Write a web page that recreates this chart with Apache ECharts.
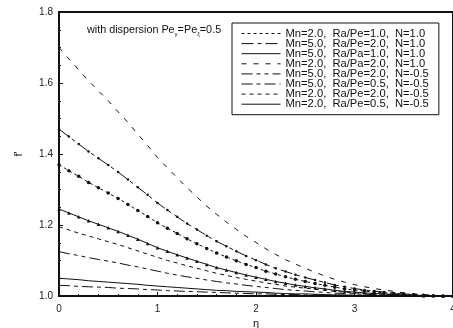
<!DOCTYPE html>
<html>
<head>
<meta charset="utf-8">
<script src="https://cdn.jsdelivr.net/npm/echarts@6/dist/echarts.min.js"></script>
<style>
  html, body { margin: 0; padding: 0; background: #fff; }
  #chart { width: 453px; height: 328px; }
</style>
</head>
<body>
<div id="chart"></div>
<script>
// f' profiles vs eta at eta = 0, 0.1, ... 4.0
const eta = [0.0, 0.1, 0.2, 0.3, 0.4, 0.5, 0.6, 0.7, 0.8, 0.9, 1.0, 1.1, 1.2, 1.3, 1.4, 1.5, 1.6, 1.7, 1.8, 1.9,
             2.0, 2.1, 2.2, 2.3, 2.4, 2.5, 2.6, 2.7, 2.8, 2.9, 3.0, 3.1, 3.2, 3.3, 3.4, 3.5, 3.6, 3.7, 3.8, 3.9, 4.0];

const legendNames = [
  "Mn=2.0,  Ra/Pe=1.0,  N=1.0",
  "Mn=5.0,  Ra/Pe=2.0,  N=1.0",
  "Mn=5.0,  Ra/Pa=1.0,  N=1.0",
  "Mn=2.0,  Ra/Pa=2.0,  N=1.0",
  "Mn=5.0,  Ra/Pe=2.0,  N=-0.5",
  "Mn=5.0,  Ra/Pe=0.5,  N=-0.5",
  "Mn=2.0,  Ra/Pe=2.0,  N=-0.5",
  "Mn=2.0,  Ra/Pe=0.5,  N=-0.5",
];

const mn2ra1n1 = [1.370, 1.353, 1.337, 1.320, 1.305, 1.290, 1.275, 1.258, 1.241, 1.224, 1.206, 1.191, 1.176, 1.161,
  1.147, 1.134, 1.121, 1.110, 1.099, 1.089, 1.080, 1.070, 1.062, 1.054, 1.047, 1.041, 1.035, 1.030, 1.025, 1.020,
  1.017, 1.014, 1.011, 1.009, 1.007, 1.005, 1.003, 1.002, 1.001, 1.000, 1.000];
const mn5ra2n1 = [1.470, 1.449, 1.428, 1.407, 1.388, 1.369, 1.349, 1.328, 1.306, 1.285, 1.262, 1.242, 1.223, 1.204,
  1.187, 1.170, 1.154, 1.140, 1.126, 1.113, 1.101, 1.089, 1.078, 1.069, 1.060, 1.052, 1.045, 1.038, 1.031, 1.026,
  1.021, 1.017, 1.014, 1.011, 1.008, 1.006, 1.004, 1.003, 1.001, 1.000, 1.000];
const mn5ra1n1 = [1.245, 1.234, 1.223, 1.212, 1.202, 1.192, 1.182, 1.171, 1.160, 1.148, 1.136, 1.126, 1.116, 1.107,
  1.098, 1.089, 1.080, 1.073, 1.066, 1.059, 1.053, 1.047, 1.041, 1.036, 1.031, 1.027, 1.023, 1.020, 1.016, 1.013,
  1.011, 1.009, 1.007, 1.006, 1.004, 1.003, 1.002, 1.001, 1.001, 1.000, 1.000];
const mn2ra2n1 = [1.700, 1.668, 1.637, 1.606, 1.578, 1.550, 1.519, 1.489, 1.456, 1.424, 1.390, 1.361, 1.333, 1.305,
  1.279, 1.253, 1.230, 1.208, 1.188, 1.168, 1.151, 1.133, 1.117, 1.102, 1.090, 1.078, 1.067, 1.056, 1.047, 1.039,
  1.032, 1.026, 1.021, 1.017, 1.013, 1.009, 1.006, 1.004, 1.002, 1.001, 1.000];
const mn5ra2nm = [1.125, 1.119, 1.114, 1.108, 1.103, 1.098, 1.093, 1.087, 1.082, 1.076, 1.070, 1.064, 1.059, 1.054,
  1.050, 1.045, 1.041, 1.037, 1.034, 1.030, 1.027, 1.024, 1.021, 1.018, 1.016, 1.014, 1.012, 1.010, 1.008, 1.007,
  1.006, 1.005, 1.004, 1.003, 1.002, 1.002, 1.001, 1.001, 1.000, 1.000, 1.000];
const mn5ra05nm = [1.030, 1.029, 1.027, 1.026, 1.025, 1.024, 1.022, 1.021, 1.020, 1.018, 1.017, 1.015, 1.014, 1.013,
  1.012, 1.011, 1.010, 1.009, 1.008, 1.007, 1.006, 1.006, 1.005, 1.004, 1.004, 1.003, 1.003, 1.002, 1.002, 1.002,
  1.001, 1.001, 1.001, 1.001, 1.001, 1.000, 1.000, 1.000, 1.000, 1.000, 1.000];
const mn2ra2nm = [1.195, 1.186, 1.177, 1.169, 1.161, 1.153, 1.145, 1.136, 1.127, 1.118, 1.109, 1.100, 1.093, 1.085,
  1.078, 1.071, 1.064, 1.058, 1.052, 1.047, 1.042, 1.037, 1.033, 1.028, 1.025, 1.022, 1.019, 1.016, 1.013, 1.011,
  1.009, 1.007, 1.006, 1.005, 1.004, 1.003, 1.002, 1.001, 1.001, 1.000, 1.000];
const mn2ra05nm = [1.050, 1.048, 1.046, 1.043, 1.041, 1.039, 1.037, 1.035, 1.033, 1.030, 1.028, 1.026, 1.024, 1.022,
  1.020, 1.018, 1.016, 1.015, 1.013, 1.012, 1.011, 1.010, 1.008, 1.007, 1.006, 1.006, 1.005, 1.004, 1.003, 1.003,
  1.002, 1.002, 1.002, 1.001, 1.001, 1.001, 1.000, 1.000, 1.000, 1.000, 1.000];

const xTicks = ["0", "1", "2", "3", "4"];

const FONT = "Liberation Sans, Arial, sans-serif";
const INK = "#111";

function pairs(ys) { return eta.map((x, i) => [x, ys[i]]); }

function curve(name, ys, dash, symbol, symbolSize) {
  return {
    name: name,
    type: "line",
    data: pairs(ys),
    smooth: false,
    symbol: symbol || "none",
    symbolSize: symbolSize || 0,
    showSymbol: !!symbol,
    showAllSymbol: true,
    itemStyle: { color: INK },
    lineStyle: { color: INK, width: 1, type: dash },
    emphasis: { disabled: true },
  };
}

const series = [
  curve(legendNames[0], mn2ra1n1, [3, 3], "circle", 3.5),
  curve(legendNames[1], mn5ra2n1, [12, 4, 4, 4], "circle", 2.5),
  curve(legendNames[2], mn5ra1n1, "solid", "triangle", 3.5),
  curve(legendNames[3], mn2ra2n1, [5, 7]),
  curve(legendNames[4], mn5ra2nm, [11, 4, 4, 4, 4, 4]),
  curve(legendNames[5], mn5ra05nm, [11, 4, 4, 4]),
  curve(legendNames[6], mn2ra2nm, [4, 4]),
  curve(legendNames[7], mn2ra05nm, "solid"),
];

const chart = echarts.init(document.getElementById("chart"), null, { renderer: "canvas" });
chart.setOption({
  animation: false,
  backgroundColor: "#fff",
  textStyle: { fontFamily: FONT },
  title: {
    text: "with dispersion Pe{sub|γ}=Pe{sub|ξ}=0.5",
    left: 82, top: 19,
    textStyle: {
      fontFamily: FONT, fontSize: 10.8, fontWeight: "normal", color: INK,
      rich: {
        sub: { fontFamily: FONT, fontSize: 6, color: INK, verticalAlign: "bottom", padding: [7, 0, 0, 0] },
      },
    },
  },
  legend: {
    orient: "vertical",
    left: 232, top: 23,
    padding: [5, 10, 5, 9],
    borderColor: INK, borderWidth: 1,
    itemWidth: 39, itemHeight: 9, itemGap: -0.9,
    selectedMode: false,
    itemStyle: { opacity: 0 },
    lineStyle: { width: 1 },
    textStyle: { fontFamily: FONT, fontSize: 11.2, color: INK, lineHeight: 9.4 },
    data: legendNames,
  },
  grid: {
    left: 59, right: 0, top: 12, bottom: 32,
    outerBoundsMode: "none",
    containLabel: false,
    show: true, borderColor: INK, borderWidth: 2, backgroundColor: "transparent",
  },
  xAxis: {
    type: "value", min: 0, max: 4, interval: 1,
    name: "η", nameLocation: "middle", nameGap: 17,
    nameTextStyle: { fontFamily: FONT, fontSize: 11, color: INK },
    axisLine: { lineStyle: { color: INK, width: 2 } },
    axisTick: { inside: true, length: 4, lineStyle: { color: INK } },
    minorTick: { show: true, splitNumber: 5, length: 2, lineStyle: { color: INK } },
    axisLabel: { fontFamily: FONT, fontSize: 10, color: "#222", margin: 8,
                 formatter: (v) => xTicks[Math.round(v)] },
    splitLine: { show: false },
  },
  yAxis: {
    type: "value", min: 1.0, max: 1.8, interval: 0.2,
    name: "f'", nameLocation: "middle", nameGap: 35, nameRotate: 90,
    nameTextStyle: { fontFamily: FONT, fontSize: 11, color: INK },
    axisLine: { lineStyle: { color: INK, width: 2 } },
    axisTick: { inside: true, length: 4, lineStyle: { color: INK } },
    minorTick: { show: true, splitNumber: 4, length: 2, lineStyle: { color: INK } },
    axisLabel: { fontFamily: FONT, fontSize: 10, color: "#222", margin: 6,
                 formatter: (v) => v.toFixed(1) },
    splitLine: { show: false },
  },
  series: series,
});
</script>
</body>
</html>
